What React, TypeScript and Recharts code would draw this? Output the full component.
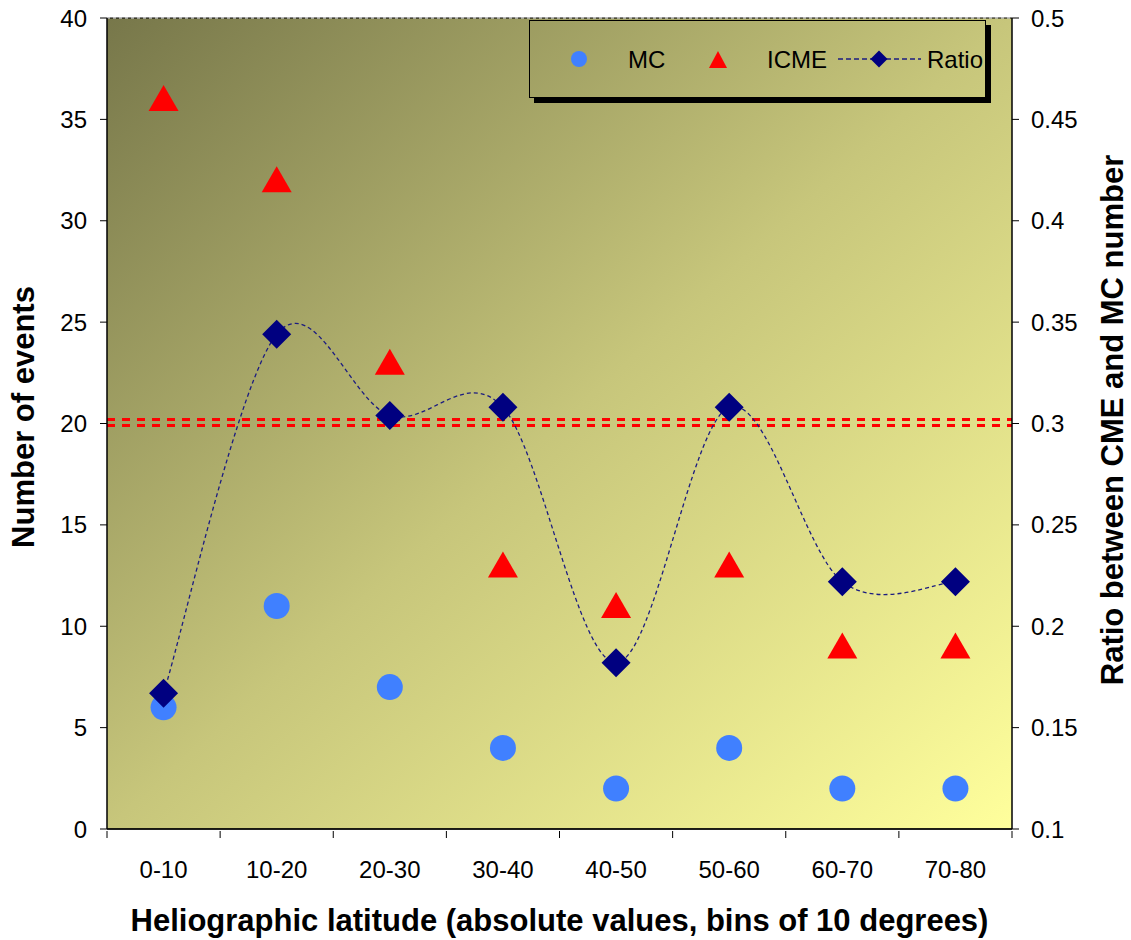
import React from 'react';
import {
  ComposedChart,
  Line,
  XAxis,
  YAxis,
  CartesianGrid,
  ReferenceLine,
} from 'recharts';

const bins = ['0-10', '10-20', '20-30', '30-40', '40-50', '50-60', '60-70', '70-80'];
const mcCounts = [6, 11, 7, 4, 2, 4, 2, 2];
const icmeCounts = [36, 32, 23, 13, 11, 13, 9, 9];
const ratioValues = [0.167, 0.344, 0.304, 0.308, 0.182, 0.308, 0.222, 0.222];
const leftTicks = [0, 5, 10, 15, 20, 25, 30, 35, 40];
const rightTicks = [0.1, 0.15, 0.2, 0.25, 0.3, 0.35, 0.4, 0.45, 0.5];
const refLevels = [20.2, 19.9];

const data = bins.map((bin, i) => ({
  bin,
  mc: mcCounts[i],
  icme: icmeCounts[i],
  ratio: ratioValues[i],
}));

const FONT = '"Liberation Sans", Arial, sans-serif';
const CAT_W = 905 / 8;

// Excel-style smoothed line (Catmull-Rom as bezier)
function excelCurve(context: any) {
  let pts: number[][] = [];
  return {
    areaStart() {},
    areaEnd() {},
    lineStart() {
      pts = [];
    },
    lineEnd() {
      if (!pts.length) return;
      context.moveTo(pts[0][0], pts[0][1]);
      for (let i = 0; i < pts.length - 1; i++) {
        const p0 = pts[i - 1] || pts[i];
        const p1 = pts[i];
        const p2 = pts[i + 1];
        const p3 = pts[i + 2] || p2;
        context.bezierCurveTo(
          p1[0] + (p2[0] - p0[0]) / 6,
          p1[1] + (p2[1] - p0[1]) / 6,
          p2[0] - (p3[0] - p1[0]) / 6,
          p2[1] - (p3[1] - p1[1]) / 6,
          p2[0],
          p2[1]
        );
      }
    },
    point(x: number, y: number) {
      pts.push([+x, +y]);
    },
  };
}

const Circle = (props: any) => {
  const { cx, cy } = props;
  if (cx == null || cy == null) return null;
  return <circle cx={cx} cy={cy} r={13} fill="#4080FF" />;
};

const Triangle = (props: any) => {
  const { cx, cy } = props;
  if (cx == null || cy == null) return null;
  return (
    <polygon
      points={`${cx},${cy - 14} ${cx + 15},${cy + 12} ${cx - 15},${cy + 12}`}
      fill="#FF0000"
    />
  );
};

const Diamond = (props: any) => {
  const { cx, cy } = props;
  if (cx == null || cy == null) return null;
  return (
    <polygon
      points={`${cx},${cy - 14.5} ${cx + 14.5},${cy} ${cx},${cy + 14.5} ${cx - 14.5},${cy}`}
      fill="#000080"
    />
  );
};

const BinTick = (props: any) => {
  const { x, y, payload, index } = props;
  return (
    <g>
      <line x1={x - CAT_W / 2} x2={x - CAT_W / 2} y1={y} y2={y + 7} stroke="#000" />
      {index === bins.length - 1 && (
        <line x1={x + CAT_W / 2} x2={x + CAT_W / 2} y1={y} y2={y + 7} stroke="#000" />
      )}
      <text x={x} y={y + 47} textAnchor="middle" fontSize={24} fill="#000" fontFamily={FONT}>
        {payload.value}
      </text>
    </g>
  );
};

export default function App() {
  return (
    <div style={{ position: 'absolute', left: 0, top: 0, width: 1131, height: 940, background: '#fff' }}>
      <ComposedChart
        width={1131}
        height={940}
        data={data}
        margin={{ top: 18, right: 0, bottom: 0, left: 0 }}
        style={{ fontFamily: FONT }}
      >
        <defs>
          <linearGradient id="bg" x1="0" y1="0" x2="1" y2="1">
            <stop offset="0%" stopColor="#77774A" />
            <stop offset="50%" stopColor="#C7C67B" />
            <stop offset="100%" stopColor="#FFFF9C" />
          </linearGradient>
        </defs>
        <CartesianGrid vertical={false} stroke="#000" strokeWidth={1} fill="url(#bg)" fillOpacity={1} />
        <XAxis
          dataKey="bin"
          scale="band"
          height={111}
          axisLine={{ stroke: '#000', strokeWidth: 1.5 }}
          tickLine={false}
          tickSize={0}
          tick={<BinTick />}
          interval={0}
        />
        <YAxis
          yAxisId="left"
          width={107}
          domain={[0, 40]}
          ticks={leftTicks}
          interval={0}
          axisLine={{ stroke: '#000', strokeWidth: 1.5 }}
          tickLine={{ stroke: '#000' }}
          tickSize={7}
          tickMargin={13}
          tick={{ fill: '#000', fontSize: 24 }}
        />
        <YAxis
          yAxisId="right"
          orientation="right"
          width={119}
          domain={[0.1, 0.5]}
          ticks={rightTicks}
          interval={0}
          axisLine={{ stroke: '#000', strokeWidth: 1.5 }}
          tickLine={{ stroke: '#000' }}
          tickSize={7}
          tickMargin={12}
          tick={{ fill: '#000', fontSize: 24 }}
        />
        <ReferenceLine yAxisId="left" y={40} stroke="#fff" strokeDasharray="3 3" />
        {refLevels.map((v) => (
          <ReferenceLine
            key={v}
            yAxisId="left"
            y={v}
            stroke="#FF0000"
            strokeWidth={3}
            strokeDasharray="8 7"
          />
        ))}
        <Line
          yAxisId="left"
          dataKey="mc"
          stroke="none"
          dot={<Circle />}
          activeDot={false}
          isAnimationActive={false}
        />
        <Line
          yAxisId="left"
          dataKey="icme"
          stroke="none"
          dot={<Triangle />}
          activeDot={false}
          isAnimationActive={false}
        />
        <Line
          yAxisId="right"
          dataKey="ratio"
          type={excelCurve as any}
          stroke="#1C1C80"
          strokeWidth={1.3}
          strokeDasharray="4 3"
          dot={<Diamond />}
          activeDot={false}
          isAnimationActive={false}
        />
      </ComposedChart>
      <svg
        width={1131}
        height={940}
        style={{ position: 'absolute', left: 0, top: 0, pointerEvents: 'none' }}
        fontFamily={FONT}
        fontWeight="bold"
        fontSize={31}
      >
        <text x={559.5} y={931} textAnchor="middle">
          Heliographic latitude (absolute values, bins of 10 degrees)
        </text>
        <text x={23} y={417} textAnchor="middle" dominantBaseline="central" transform="rotate(-90 23 417)">
          Number of events
        </text>
        <text x={1112} y={420} textAnchor="middle" dominantBaseline="central" transform="rotate(-90 1112 420)">
          Ratio between CME and MC number
        </text>
      </svg>
      <div
        style={{
          position: 'absolute',
          left: 529,
          top: 20,
          width: 455,
          height: 76,
          border: '1.5px solid #000',
          boxShadow: '5px 5px 0 #000',
        }}
      >
        <svg width={455} height={76} style={{ position: 'absolute', left: 0, top: 0 }} fontFamily={FONT}>
          <circle cx={49} cy={38} r={8} fill="#4080FF" />
          <polygon points="188,30 197,47 179,47" fill="#FF0000" />
          <line x1={308} x2={391} y1={38} y2={38} stroke="#1C1C80" strokeWidth={1.3} strokeDasharray="5 3" />
          <polygon points="349,29.5 357.5,38 349,46.5 340.5,38" fill="#000080" />
          <text x={98} y={47} fontSize={24}>MC</text>
          <text x={237} y={47} fontSize={24}>ICME</text>
          <text x={397} y={47} fontSize={24}>Ratio</text>
        </svg>
      </div>
    </div>
  );
}
